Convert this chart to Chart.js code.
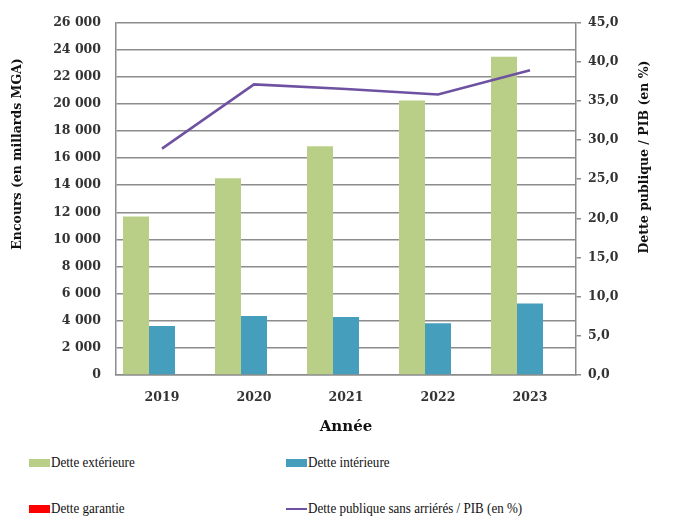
<!DOCTYPE html>
<html>
<head>
<meta charset="utf-8">
<script src="https://cdn.jsdelivr.net/npm/chart.js@4.4.1/dist/chart.umd.min.js"></script>
<style>
  html, body { margin: 0; padding: 0; background: #fff; }
  #wrap { position: relative; width: 680px; height: 518px; overflow: hidden; }
  #debtChart { position: absolute; left: 0; top: 0; }
  #legend { position: absolute; left: 0; top: 440px; width: 680px; height: 78px;
            font-family: "Liberation Serif", serif; font-size: 14.5px; color: #111; }
  .item { position: absolute; display: flex; align-items: center; white-space: nowrap; }
  .swatch { width: 21px; height: 8px; margin-right: 1px; flex: none; }
  .swatch.line { height: 2px; }
  .txt { display: inline-block; transform: scaleX(0.9); transform-origin: left center; }
</style>
</head>
<body>
<div id="wrap">
  <canvas id="debtChart" width="680" height="440"></canvas>
  <div id="legend"></div>
</div>
<script>
const years = ['2019', '2020', '2021', '2022', '2023'];
const detteExterieure = [11700, 14520, 16870, 20250, 23480];
const detteInterieure = [3620, 4355, 4280, 3820, 5265];
const detteGarantie = [0, 0, 0, 0, 0];
const dettePib = [28.9, 37.1, 36.5, 35.8, 38.9];

const leftTicks = [0, 2000, 4000, 6000, 8000, 10000, 12000, 14000, 16000, 18000, 20000, 22000, 24000, 26000];
const rightTicks = [0, 5, 10, 15, 20, 25, 30, 35, 40, 45];

const leftTitle = 'Encours (en millards MGA)';
const rightTitle = 'Dette publique / PIB (en %)';

const tickFont = { family: '"DejaVu Serif", serif', size: 12.5, weight: 'bold' };
const gridColor = '#8c8c8c';

const fmtThousands = v => v === 0 ? '0' : Math.floor(v / 1000) + '\u00a0' + String(v % 1000).padStart(3, '0');
const fmtPct = v => v.toFixed(1).replace('.', ',');

// both y titles read bottom-to-top, like the Excel original
const axisTitles = {
    id: 'axisTitles',
    afterDraw(chart) {
        const c = chart.ctx;
        c.save();
        c.font = 'bold 12.5px "DejaVu Serif", serif';
        c.fillStyle = '#111';
        c.textAlign = 'center';
        c.textBaseline = 'middle';
        [[18, 154, leftTitle], [645, 157, rightTitle]].forEach(([x, y, t]) => {
            c.save();
            c.translate(x, y);
            c.rotate(-Math.PI / 2);
            c.fillText(t, 0, 0);
            c.restore();
        });
        c.restore();
    }
};

const ctx = document.getElementById('debtChart').getContext('2d');
const chart = new Chart(ctx, {
    data: {
        labels: years,
        datasets: [
            {
                type: 'line',
                label: 'Dette publique sans arriérés / PIB (en %)',
                data: dettePib,
                yAxisID: 'y1',
                borderColor: '#6f51a1',
                backgroundColor: '#6f51a1',
                borderWidth: 2.5,
                pointRadius: 0,
                tension: 0,
                order: 0
            },
            {
                type: 'bar',
                label: 'Dette extérieure',
                data: detteExterieure,
                yAxisID: 'y',
                backgroundColor: '#b9cf88',
                order: 1
            },
            {
                type: 'bar',
                label: 'Dette intérieure',
                data: detteInterieure,
                yAxisID: 'y',
                backgroundColor: '#459fbc',
                order: 1
            },
            {
                type: 'bar',
                label: 'Dette garantie',
                data: detteGarantie,
                yAxisID: 'y',
                backgroundColor: '#ff0000',
                order: 1
            }
        ]
    },
    plugins: [axisTitles],
    options: {
        responsive: false,
        animation: false,
        datasets: { bar: { categoryPercentage: 0.848, barPercentage: 1.0 } },
        layout: { padding: { top: 14, left: 0, right: 0, bottom: 0 } },
        plugins: {
            legend: { display: false },
            tooltip: { enabled: false }
        },
        scales: {
            x: {
                grid: { display: false },
                border: { color: gridColor, width: 1.5 },
                ticks: { color: '#333', font: tickFont, padding: 7 },
                title: { display: true, text: 'Année', color: '#111',
                         font: { family: '"DejaVu Serif", serif', size: 15, weight: 'bold' }, padding: { top: 8 } },
                afterFit: s => { s.height = 65; }
            },
            y: {
                position: 'left',
                min: 0, max: 26000,
                afterBuildTicks: s => { s.ticks = leftTicks.map(v => ({ value: v })); },
                grid: { color: gridColor, lineWidth: 1.5, drawTicks: false },
                border: { color: gridColor, width: 1.5 },
                ticks: { color: '#333', font: tickFont, padding: 15, callback: v => fmtThousands(v) },
                afterFit: s => { s.width = 116; }
            },
            y1: {
                position: 'right',
                min: 0, max: 45,
                afterBuildTicks: s => { s.ticks = rightTicks.map(v => ({ value: v })); },
                grid: { drawOnChartArea: false, color: gridColor, lineWidth: 1.5, tickLength: 5 },
                border: { color: gridColor, width: 1.5 },
                ticks: { color: '#333', font: tickFont, padding: 7, callback: v => fmtPct(v) },
                afterFit: s => { s.width = 104; }
            }
        }
    }
});

// legend in two columns, built from the chart's own datasets
const legendEl = document.getElementById('legend');
const slots = [
    { label: 'Dette extérieure', left: 29, top: 24 },
    { label: 'Dette intérieure', left: 286, top: 24 },
    { label: 'Dette garantie', left: 29, top: 70 },
    { label: 'Dette publique sans arriérés / PIB (en %)', left: 286, top: 70 }
];
slots.forEach(slot => {
    const ds = chart.data.datasets.find(d => d.label === slot.label);
    const item = document.createElement('div');
    item.className = 'item';
    item.style.left = slot.left + 'px';
    item.style.top = (slot.top - 10) + 'px';
    const sw = document.createElement('span');
    sw.className = 'swatch' + (ds.type === 'line' ? ' line' : '');
    sw.style.background = ds.type === 'line' ? ds.borderColor : ds.backgroundColor;
    const txt = document.createElement('span');
    txt.className = 'txt';
    txt.textContent = ds.label;
    item.appendChild(sw);
    item.appendChild(txt);
    legendEl.appendChild(item);
});
</script>
</body>
</html>
